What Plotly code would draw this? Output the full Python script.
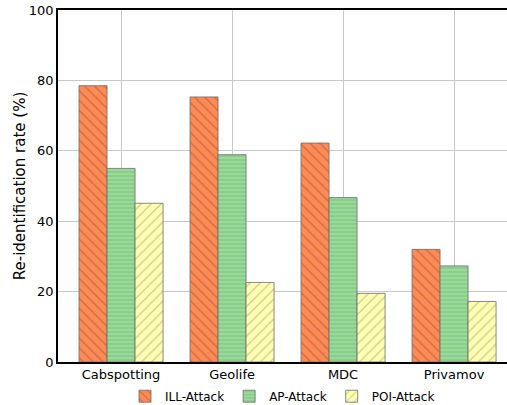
import plotly.graph_objects as go

categories = ["Cabspotting", "Geolife", "MDC", "Privamov"]
ill_attack = [78.5, 75.3, 62.2, 32.0]
ap_attack = [55.0, 58.9, 46.7, 27.3]
poi_attack = [45.1, 22.6, 19.5, 17.2]
y_ticks = [0, 20, 40, 60, 80, 100]

series = [
    ("ILL-Attack", ill_attack, "#FF8A55", "#8a4f35", "\\", 7),
    ("AP-Attack", ap_attack, "#98DA98", "#4f8a4f", "-", 4),
    ("POI-Attack", poi_attack, "#FFFFB3", "#9a9a6a", "/", 7),
]

fig = go.Figure()
for name, vals, color, fg, shape, size in series:
    fig.add_trace(go.Bar(
        x=list(range(len(categories))), y=vals, name=name,
        marker=dict(color=color, line=dict(color="#6b6b6b", width=0.8),
                    pattern=dict(shape=shape, fgcolor=fg, size=size, solidity=0.18)),
    ))

fig.update_layout(
    width=507, height=405,
    margin=dict(l=58, r=0, t=10, b=43, autoexpand=False),
    plot_bgcolor="white", paper_bgcolor="white",
    barmode="group", bargap=0.243, bargroupgap=0,
    font=dict(family="DejaVu Sans", size=12, color="black"),
    legend=dict(orientation="h", x=0.5, xanchor="center", y=-0.056, yanchor="top",
                font=dict(size=12), itemwidth=30, tracegroupgap=0,
                bgcolor="rgba(0,0,0,0)"),
    xaxis=dict(tickmode="array", tickvals=list(range(len(categories))), ticktext=categories,
               range=[-0.568, 3.477], showgrid=True, gridcolor="#c8c8c8", gridwidth=1,
               showline=True, linecolor="black", linewidth=1.5, mirror=True,
               ticks="", zeroline=False, tickfont=dict(size=13), automargin=False),
    yaxis=dict(range=[0, 100], tickvals=y_ticks, showgrid=True, gridcolor="#c8c8c8",
               gridwidth=1, showline=True, linecolor="black", linewidth=1.5,
               ticks="", zeroline=False, tickfont=dict(size=13), automargin=False,
               title=dict(text="Re-identification rate (%)", font=dict(size=15), standoff=0)),
)

fig.write_html("out.html", config={"displayModeBar": False},
               post_script="document.body.style.margin='0';")
